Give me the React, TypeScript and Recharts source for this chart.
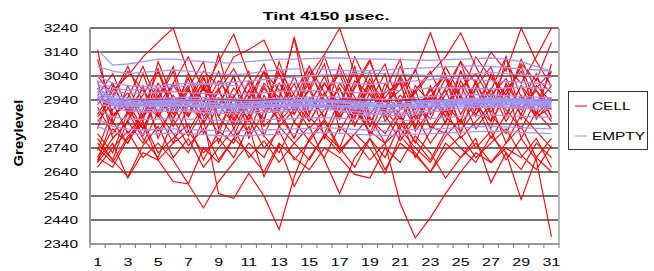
import { LineChart, Line, XAxis, YAxis, CartesianGrid, ReferenceLine } from "recharts";

// measurement days (x categories)
const DAYS = [1, 2, 3, 4, 5, 6, 7, 8, 9, 10, 11, 12, 13, 14, 15, 16, 17, 18, 19, 20, 21, 22, 23, 24, 25, 26, 27, 28, 29, 30, 31];
const X_LABELS = [1, 3, 5, 7, 9, 11, 13, 15, 17, 19, 21, 23, 25, 27, 29, 31];
const Y_TICKS = [2340, 2440, 2540, 2640, 2740, 2840, 2940, 3040, 3140, 3240];

// CELL wells (red)
const CELL_1 = [3150, 2850, 2760, 2900, 3060, 2880, 2990, 3100, 2820, 2950, 3060, 2790, 2940, 3200, 2880, 3010, 2920, 3060, 2830, 2980, 3110, 2860, 2950, 3050, 2800, 2990, 3080, 2870, 3000, 2920, 3060];
const CELL_2 = [2880, 2980, 3040, 3120, 3180, 3240, 3050, 2930, 3060, 2860, 2980, 3090, 2900, 3010, 2850, 2960, 3070, 2920, 2800, 2950, 3030, 2880, 2990, 2840, 3060, 2940, 2820, 3010, 2900, 2980, 2870];
const CELL_3 = [2990, 2870, 2950, 3080, 2920, 3010, 3120, 2980, 3100, 3215, 3040, 2910, 3050, 2880, 2990, 3120, 2950, 2860, 3030, 2900, 2820, 3000, 2930, 3080, 2960, 2870, 3050, 2920, 3110, 2980, 2900];
const CELL_4 = [2700, 2820, 2760, 2870, 2990, 2830, 2940, 3060, 3000, 3120, 3150, 3190, 3050, 2930, 3080, 2970, 2860, 2990, 3100, 2940, 2880, 2760, 2910, 3030, 2880, 2990, 2850, 2960, 3080, 2920, 3000];
const CELL_5 = [2960, 3050, 2900, 2820, 2950, 3080, 2870, 2990, 2910, 3040, 2880, 3010, 2950, 3200, 2980, 2860, 3090, 2950, 2830, 3010, 2920, 3070, 2880, 2960, 3100, 2900, 2980, 3120, 2860, 3000, 2930];
const CELL_6 = [2780, 2690, 2860, 2940, 2810, 2900, 3030, 2870, 2980, 2850, 2950, 3060, 2920, 2880, 3040, 3130, 3240, 3050, 2880, 2970, 3010, 2830, 2950, 2870, 3020, 2910, 3040, 2960, 2880, 3030, 2970];
const CELL_7 = [2850, 2930, 2800, 2880, 3010, 2920, 2790, 2900, 3020, 2940, 2860, 2990, 2900, 3040, 2890, 2970, 2860, 3000, 3110, 2930, 2980, 3060, 3220, 3040, 2920, 3010, 2890, 2980, 3060, 2880, 2950];
const CELL_8 = [2910, 2800, 2890, 2990, 2870, 2960, 2880, 3030, 2920, 2840, 2980, 2890, 3010, 2930, 2850, 2960, 3050, 2880, 2990, 3090, 2900, 2970, 3050, 3120, 3220, 3080, 2960, 3030, 2900, 2990, 3060];
const CELL_9 = [3040, 2960, 3080, 2930, 2870, 3000, 2920, 2850, 2980, 3070, 2950, 2860, 3010, 2900, 3060, 2940, 2880, 3020, 2960, 2890, 3040, 2930, 2860, 2990, 3100, 3010, 3140, 3060, 3240, 3100, 3000];
const CELL_10 = [2920, 3010, 2880, 2960, 3070, 2900, 2990, 2840, 2950, 2880, 3020, 2930, 2860, 2970, 3080, 2910, 2990, 2870, 3010, 2940, 2860, 2980, 3060, 2920, 2990, 3050, 2940, 3080, 3010, 3120, 3240];
const CELL_11 = [2870, 2950, 3060, 2980, 2890, 3010, 2930, 3040, 2870, 2990, 2910, 3060, 2980, 2850, 2940, 3010, 2900, 3120, 2990, 2870, 2960, 2900, 2980, 3040, 2950, 3120, 3030, 2960, 3090, 3020, 3180];
const CELL_12 = [2690, 2780, 2850, 2760, 2890, 2800, 2720, 2860, 2550, 2530, 2635, 2540, 2400, 2620, 2780, 2860, 2740, 2900, 2810, 2760, 2880, 2700, 2810, 2900, 2780, 2850, 2920, 2760, 2880, 2810, 2740];
const CELL_13 = [2660, 2740, 2810, 2700, 2760, 2690, 2590, 2490, 2600, 2680, 2760, 2700, 2830, 2760, 2690, 2800, 2740, 2660, 2780, 2700, 2840, 2770, 2690, 2810, 2740, 2680, 2790, 2720, 2650, 2760, 2700];
const CELL_14 = [2740, 2680, 2790, 2850, 2720, 2780, 2840, 2690, 2810, 2760, 2880, 2790, 2720, 2850, 2770, 2700, 2830, 2770, 2690, 2760, 2510, 2365, 2450, 2550, 2640, 2720, 2680, 2760, 2830, 2700, 2780];
const CELL_15 = [2800, 2720, 2890, 2780, 2700, 2860, 2750, 2820, 2690, 2780, 2860, 2740, 2810, 2690, 2770, 2850, 2730, 2800, 2870, 2760, 2820, 2740, 2680, 2790, 2860, 2740, 2810, 2690, 2780, 2690, 2370];
const CELL_16 = [2760, 2690, 2620, 2750, 2830, 2700, 2780, 2660, 2740, 2820, 2700, 2770, 2680, 2760, 2830, 2690, 2550, 2700, 2780, 2650, 2760, 2710, 2640, 2760, 2700, 2780, 2595, 2720, 2525, 2700, 2640];
const CELL_17 = [2680, 2760, 2615, 2720, 2690, 2600, 2590, 2740, 2680, 2780, 2720, 2640, 2760, 2700, 2650, 2740, 2700, 2630, 2615, 2740, 2680, 2790, 2720, 2615, 2700, 2760, 2680, 2740, 2700, 2780, 2660];
const CELL_18 = [2700, 2660, 2780, 2840, 2690, 2760, 2810, 2720, 2780, 2700, 2830, 2620, 2750, 2580, 2700, 2790, 2720, 2800, 2740, 2635, 2790, 2720, 2640, 2730, 2790, 2700, 2760, 2820, 2710, 2650, 2750];
const CELL_19 = [3110, 2880, 2920, 2790, 2980, 2860, 3050, 2900, 2800, 2960, 2850, 3000, 2880, 2780, 2920, 3040, 2870, 2950, 2790, 2900, 3020, 2810, 2900, 2980, 2840, 2930, 2780, 2880, 3000, 2860, 2940];
const CELL_20 = [2820, 3000, 2890, 3050, 2880, 2760, 2920, 3010, 2870, 2790, 2930, 2850, 3100, 2920, 2820, 2900, 2990, 2840, 2930, 3050, 2790, 2880, 2760, 2850, 2960, 2820, 2910, 3000, 2780, 2890, 2820];
const CELL_21 = [2950, 2840, 3000, 2870, 2940, 3060, 2810, 2920, 3130, 2890, 2800, 2960, 2850, 2920, 3010, 2780, 2910, 3080, 2860, 2800, 2900, 2980, 2820, 2920, 2850, 3020, 2880, 2800, 2930, 3050, 2860];
const CELL_22 = [2730, 2900, 2970, 2850, 3100, 2940, 2870, 3000, 2760, 2900, 3010, 2830, 2900, 2780, 2950, 2870, 3010, 2920, 3060, 2850, 2940, 2820, 3000, 2870, 2810, 2900, 2990, 2850, 2960, 2880, 3090];
const CELL_23 = [3020, 2780, 2850, 3000, 2780, 2920, 3000, 2800, 2920, 3040, 2780, 2890, 3070, 2960, 2870, 2800, 2940, 2830, 2970, 2900, 3080, 2940, 2830, 2800, 3000, 2880, 2960, 2900, 2820, 2940, 2850];
const CELL_24 = [2680, 2870, 2930, 2820, 2960, 2860, 2980, 2890, 2990, 2820, 2940, 3060, 2830, 2900, 2980, 3090, 2810, 2920, 3010, 2880, 2770, 2860, 2960, 2890, 3060, 2920, 2850, 3120, 2950, 2870, 2910];

// EMPTY wells (lavender)
const EMPTY_1 = [3150, 3085, 3090, 3100, 3110, 3110, 3105, 3100, 3095, 3095, 3100, 3105, 3110, 3110, 3112, 3115, 3115, 3112, 3110, 3110, 3108, 3106, 3105, 3108, 3110, 3112, 3115, 3110, 3100, 3080, 3060];
const EMPTY_2 = [3080, 3060, 3050, 3055, 3060, 3065, 3060, 3055, 3050, 3045, 3050, 3060, 3065, 3070, 3070, 3068, 3065, 3060, 3062, 3065, 3070, 3072, 3075, 3078, 3080, 3082, 3080, 3075, 3070, 3065, 3060];
const EMPTY_3 = [3040, 3010, 3000, 2995, 3000, 3005, 3010, 3008, 3005, 3000, 2998, 3000, 3005, 3010, 3015, 3012, 3010, 3008, 3005, 3010, 3015, 3020, 3025, 3030, 3028, 3025, 3020, 3018, 3015, 3010, 3005];
const EMPTY_4 = [3000, 2975, 2970, 2968, 2972, 2975, 2970, 2968, 2965, 2962, 2965, 2970, 2975, 2978, 2980, 2978, 2975, 2972, 2970, 2975, 2980, 2985, 2990, 2992, 2990, 2988, 2985, 2990, 2995, 2990, 2985];
const EMPTY_5 = [2990, 2950, 2940, 2935, 2938, 2940, 2942, 2940, 2938, 2935, 2932, 2935, 2938, 2940, 2942, 2940, 2938, 2935, 2930, 2928, 2930, 2935, 2938, 2940, 2945, 2948, 2950, 2948, 2945, 2942, 2940];
const EMPTY_6 = [2970, 2935, 2925, 2922, 2925, 2928, 2925, 2920, 2918, 2915, 2918, 2920, 2922, 2925, 2928, 2930, 2928, 2925, 2920, 2915, 2918, 2922, 2925, 2930, 2932, 2935, 2938, 2935, 2932, 2930, 2928];
const EMPTY_7 = [2960, 2925, 2915, 2910, 2912, 2915, 2912, 2908, 2905, 2902, 2905, 2908, 2910, 2912, 2915, 2918, 2915, 2910, 2905, 2900, 2902, 2906, 2910, 2915, 2920, 2922, 2925, 2922, 2920, 2918, 2915];
const EMPTY_8 = [2950, 2915, 2905, 2900, 2902, 2905, 2900, 2898, 2895, 2892, 2895, 2898, 2900, 2905, 2908, 2910, 2908, 2904, 2898, 2890, 2885, 2892, 2900, 2908, 2912, 2915, 2918, 2915, 2912, 2910, 2908];
const EMPTY_9 = [3010, 2960, 2948, 2945, 2948, 2950, 2952, 2950, 2948, 2945, 2942, 2945, 2948, 2950, 2952, 2955, 2952, 2948, 2945, 2942, 2945, 2950, 2955, 2958, 2960, 2962, 2960, 2958, 2955, 2952, 2950];
const EMPTY_10 = [2940, 2920, 2915, 2918, 2920, 2922, 2918, 2915, 2912, 2910, 2912, 2915, 2918, 2920, 2922, 2920, 2918, 2915, 2912, 2910, 2912, 2915, 2918, 2922, 2925, 2928, 2930, 2928, 2925, 2922, 2920];
const EMPTY_11 = [2985, 2945, 2930, 2928, 2930, 2932, 2930, 2928, 2925, 2922, 2925, 2928, 2930, 2932, 2935, 2935, 2932, 2928, 2925, 2920, 2922, 2928, 2932, 2935, 2938, 2940, 2942, 2940, 2938, 2935, 2932];
const EMPTY_12 = [2930, 2905, 2895, 2890, 2892, 2895, 2892, 2888, 2885, 2882, 2885, 2888, 2892, 2895, 2898, 2900, 2898, 2892, 2885, 2878, 2875, 2882, 2890, 2898, 2905, 2908, 2910, 2908, 2905, 2902, 2900];
const EMPTY_13 = [2900, 2870, 2860, 2858, 2860, 2862, 2860, 2858, 2855, 2852, 2855, 2858, 2860, 2862, 2865, 2868, 2865, 2860, 2855, 2850, 2852, 2858, 2862, 2868, 2872, 2875, 2878, 2875, 2872, 2870, 2868];
const EMPTY_14 = [2860, 2830, 2820, 2815, 2818, 2820, 2818, 2815, 2812, 2810, 2812, 2815, 2818, 2820, 2822, 2825, 2822, 2818, 2815, 2812, 2815, 2818, 2820, 2822, 2825, 2828, 2830, 2828, 2825, 2822, 2820];
const EMPTY_15 = [2830, 2805, 2800, 2798, 2800, 2802, 2800, 2796, 2792, 2790, 2792, 2795, 2798, 2800, 2802, 2805, 2802, 2798, 2795, 2792, 2795, 2798, 2800, 2802, 2805, 2808, 2810, 2808, 2805, 2802, 2800];
const EMPTY_16 = [3020, 2990, 2980, 2985, 2990, 2995, 3000, 3005, 3010, 3015, 3020, 3025, 3030, 3035, 3040, 3045, 3048, 3050, 3052, 3050, 3048, 3045, 3042, 3040, 3045, 3050, 3055, 3050, 3045, 3040, 3035];
const EMPTY_17 = [2975, 2940, 2932, 2930, 2934, 2936, 2934, 2930, 2926, 2924, 2926, 2930, 2934, 2936, 2938, 2936, 2930, 2922, 2915, 2910, 2914, 2922, 2930, 2936, 2940, 2942, 2945, 2942, 2940, 2936, 2934];
const EMPTY_18 = [2955, 2930, 2922, 2918, 2916, 2918, 2916, 2912, 2910, 2908, 2910, 2912, 2915, 2918, 2920, 2912, 2895, 2880, 2878, 2888, 2900, 2910, 2918, 2925, 2930, 2932, 2934, 2932, 2930, 2926, 2924];

const CELL_SERIES = [CELL_1, CELL_2, CELL_3, CELL_4, CELL_5, CELL_6, CELL_7, CELL_8, CELL_9, CELL_10, CELL_11, CELL_12,
  CELL_13, CELL_14, CELL_15, CELL_16, CELL_17, CELL_18, CELL_19, CELL_20, CELL_21, CELL_22, CELL_23, CELL_24];
const EMPTY_SERIES = [EMPTY_1, EMPTY_2, EMPTY_3, EMPTY_4, EMPTY_5, EMPTY_6, EMPTY_7, EMPTY_8, EMPTY_9, EMPTY_10,
  EMPTY_11, EMPTY_12, EMPTY_13, EMPTY_14, EMPTY_15, EMPTY_16, EMPTY_17, EMPTY_18];

const FONT = "'Liberation Sans', Arial, sans-serif";
const CELL_COLOR = "#ff0000";
const EMPTY_COLOR = "#9999ff";

const rows = DAYS.map((day, i) => {
  const row: Record<string, number> = { day };
  CELL_SERIES.forEach((s, j) => (row[`c${j}`] = s[i]));
  EMPTY_SERIES.forEach((s, j) => (row[`e${j}`] = s[i]));
  return row;
});

// tick positions on the category grid: labels at odd days, tick marks at the boundaries
const xTicks: number[] = [];
for (let v = 0.5; v <= 31.5; v += 0.5) xTicks.push(v);

function XTick(props: any) {
  const { x, y, payload } = props;
  const v = payload.value as number;
  if (v % 1 !== 0) {
    return <line x1={x} x2={x} y1={y} y2={y + 4} stroke="#777" strokeWidth={1} />;
  }
  if (!X_LABELS.includes(v)) return <g />;
  return (
    <text transform={`translate(${x},${y + 22}) scale(1.45,1)`} textAnchor="middle" fontSize={11} fontFamily={FONT} fill="#000">
      {v}
    </text>
  );
}

function YTick(props: any) {
  const { x, y, payload } = props;
  return (
    <text transform={`translate(${x - 12},${y + 4}) scale(1.4,1)`} textAnchor="end" fontSize={11} fontFamily={FONT} fill="#000">
      {payload.value}
    </text>
  );
}

export default function App() {
  return (
    <div style={{ position: "absolute", left: 0, top: 0, width: 654, height: 271, background: "#fff" }}>
      <LineChart width={654} height={271} data={rows} margin={{ top: 28, right: 95, bottom: 0, left: 0 }}>
        <CartesianGrid vertical={false} stroke="#444" strokeWidth={1.3} />
        <XAxis
          dataKey="day"
          type="number"
          domain={[0.5, 31.5]}
          ticks={xTicks}
          interval={0}
          height={27}
          tickSize={0}
          tickMargin={0}
          tickLine={false}
          tick={XTick}
          axisLine={{ stroke: "#999", strokeWidth: 2 }}
        />
        <YAxis
          width={90}
          domain={[2340, 3240]}
          ticks={Y_TICKS}
          interval={0}
          tickSize={0}
          tickMargin={0}
          tickLine={false}
          tick={YTick}
          axisLine={{ stroke: "#999", strokeWidth: 2 }}
        />
        <ReferenceLine x={31.5} stroke="#b8b8b8" strokeWidth={2} />
        {CELL_SERIES.map((_, j) => (
          <Line key={`c${j}`} dataKey={`c${j}`} stroke={CELL_COLOR} strokeWidth={1.1} dot={false} isAnimationActive={false} />
        ))}
        {EMPTY_SERIES.map((_, j) => (
          <Line key={`e${j}`} dataKey={`e${j}`} stroke={EMPTY_COLOR} strokeWidth={1.3} dot={false} isAnimationActive={false} />
        ))}
      </LineChart>
      <svg width={654} height={271} style={{ position: "absolute", left: 0, top: 0, pointerEvents: "none" }}>
        <text transform="translate(326,20) scale(1.55,1)" textAnchor="middle" fontSize={11.5} fontWeight="bold" fontFamily={FONT} fill="#000">
          Tint 4150 µsec.
        </text>
        <text transform="translate(23,133) rotate(-90) scale(1.24,1)" textAnchor="middle" fontSize={12} fontWeight="bold" fontFamily={FONT} fill="#000">
          Greylevel
        </text>
        <rect x={568.5} y={91.5} width={79} height={58} fill="#fff" stroke="#333" strokeWidth={1} />
        <line x1={575} x2={587} y1={106} y2={106} stroke={CELL_COLOR} strokeWidth={1} />
        <text transform="translate(592,110) scale(1.4,1)" fontSize={11} fontFamily={FONT} fill="#000">
          CELL
        </text>
        <line x1={575} x2={587} y1={136} y2={136} stroke={EMPTY_COLOR} strokeWidth={1} />
        <text transform="translate(592,140) scale(1.4,1)" fontSize={11} fontFamily={FONT} fill="#000">
          EMPTY
        </text>
      </svg>
    </div>
  );
}
